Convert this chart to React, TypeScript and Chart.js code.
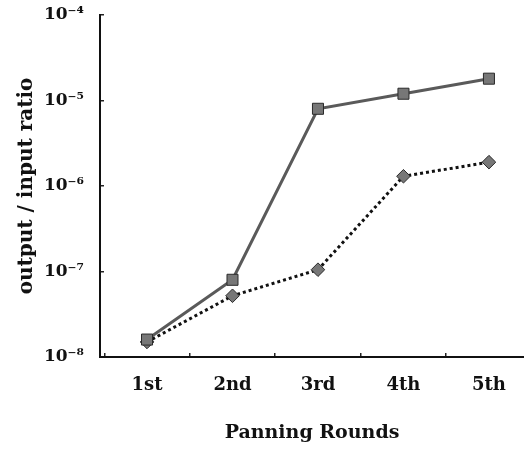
import React, { useEffect, useRef } from "react";
import { Chart, registerables } from "chart.js";

Chart.register(...registerables);

const rounds = ["1st", "2nd", "3rd", "4th", "5th"];
const squareSeries = [1.6e-8, 8.0e-8, 8.0e-6, 1.2e-5, 1.8e-5];
const diamondSeries = [1.5e-8, 5.2e-8, 1.05e-7, 1.3e-6, 1.9e-6];
const yTickExponents = [-8, -7, -6, -5, -4];
const yAxisTitle = "output / input ratio";
const xAxisTitle = "Panning Rounds";

const SUP: Record<string, string> = {
  "-": "\u207B", "0": "\u2070", "1": "\u00B9", "2": "\u00B2", "3": "\u00B3",
  "4": "\u2074", "5": "\u2075", "6": "\u2076", "7": "\u2077", "8": "\u2078", "9": "\u2079",
};
const toSup = (s: string) => s.split("").map((c) => SUP[c] ?? c).join("");

const FONT = "'DejaVu Serif', 'Liberation Serif', serif";

export default function App() {
  const ref = useRef<HTMLCanvasElement | null>(null);
  useEffect(() => {
    if (!ref.current) return;
    const chart = new Chart(ref.current, {
      type: "line",
      data: {
        datasets: [
          {
            label: "square",
            data: squareSeries.map((v, i) => ({ x: i + 1, y: v })),
            borderColor: "#5a5a5a",
            borderWidth: 3,
            pointStyle: "rect",
            pointRadius: 7.8,
            pointBackgroundColor: "#777777",
            pointBorderColor: "#2a2a2a",
            pointBorderWidth: 1,
            tension: 0,
          },
          {
            label: "diamond",
            data: diamondSeries.map((v, i) => ({ x: i + 1, y: v })),
            borderColor: "#111111",
            borderWidth: 3,
            borderDash: [3, 3],
            pointStyle: "rectRot",
            pointRadius: 6.8,
            pointBackgroundColor: "#777777",
            pointBorderColor: "#2a2a2a",
            pointBorderWidth: 1,
            tension: 0,
          },
        ],
      },
      options: {
        animation: false,
        responsive: false,
        maintainAspectRatio: false,
        layout: { autoPadding: false, padding: { top: 15, right: 0, left: 0, bottom: 0 } },
        plugins: { legend: { display: false }, tooltip: { enabled: false } },
        scales: {
          x: {
            type: "linear",
            min: 0.45,
            max: 5.41,
            afterBuildTicks: (scale: any) => {
              scale.ticks = rounds.map((_, i) => ({ value: i + 1 }));
            },
            afterFit: (scale: any) => {
              scale.height = 94;
              scale.paddingLeft = 0;
              scale.paddingRight = 0;
            },
            ticks: {
              callback: (v: any) => rounds[Math.round(Number(v)) - 1] ?? "",
              color: "#111",
              font: { family: FONT, size: 18, weight: "bold" },
              padding: 22,
              maxRotation: 0,
              autoSkip: false,
            },
            grid: {
              display: true,
              drawOnChartArea: false,
              drawTicks: true,
              offset: true,
              tickLength: -4,
              color: "#222",
              lineWidth: 1.5,
            },
            border: { display: true, color: "#111", width: 2 },
            title: {
              display: true,
              text: xAxisTitle,
              color: "#111",
              font: { family: FONT, size: 19, weight: "bold" },
              padding: { top: 0, bottom: 7 },
            },
          },
          y: {
            type: "logarithmic",
            min: 1e-8,
            max: 1e-4,
            afterBuildTicks: (scale: any) => {
              scale.ticks = yTickExponents.map((e) => ({ value: Math.pow(10, e), major: true }));
            },
            afterFit: (scale: any) => {
              scale.width = 100;
              scale.paddingTop = 0;
              scale.paddingBottom = 0;
            },
            ticks: {
              callback: (v: any) => "10" + toSup(String(Math.round(Math.log10(Number(v))))),
              color: "#111",
              font: { family: FONT, size: 17, weight: "bold" },
              padding: 20,
              autoSkip: false,
            },
            grid: {
              display: true,
              drawOnChartArea: false,
              drawTicks: true,
              tickLength: -4,
              color: "#222",
              lineWidth: 1.5,
            },
            border: { display: true, color: "#111", width: 2 },
            title: {
              display: true,
              text: yAxisTitle,
              color: "#111",
              font: { family: FONT, size: 20, weight: "bold" },
              padding: { top: 15, bottom: 0 },
            },
          },
        },
      },
    });
    return () => chart.destroy();
  }, []);
  return (
    <div style={{ position: "absolute", left: 0, top: 0, width: 524, height: 451, background: "#fff" }}>
      <canvas ref={ref} width={524} height={451} style={{ width: 524, height: 451 }} />
    </div>
  );
}
